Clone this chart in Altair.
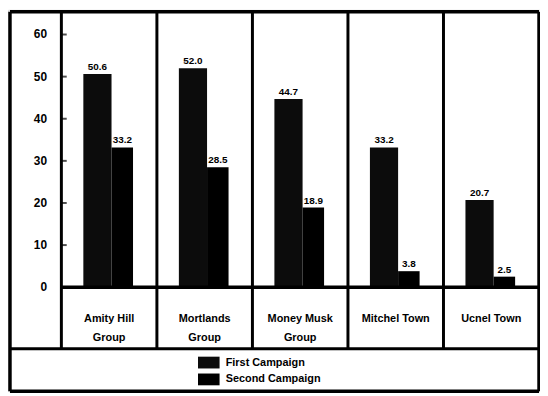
import altair as alt
import pandas as pd

# ---- data ----
groups = ["Amity Hill Group", "Mortlands Group", "Money Musk Group", "Mitchel Town", "Ucnel Town"]
group_labels = ["Amity Hill\nGroup", "Mortlands\nGroup", "Money Musk\nGroup", "Mitchel Town", "Ucnel Town"]
first_campaign = [50.6, 52.0, 44.7, 33.2, 20.7]
second_campaign = [33.2, 28.5, 18.9, 3.8, 2.5]
series = ["First Campaign", "Second Campaign"]
series_colors = ["#0c0c0c", "#000000"]
y_ticks = [0, 10, 20, 30, 40, 50, 60]

# ---- layout (panel units on x, value units on y) ----
X_LEFT, X_RIGHT = -0.538, 5.0
Y_BOTTOM, Y_TOP = -24.7, 65.4
Y_CAT_BOTTOM = -14.6
FONT = "Liberation Sans"

xs = alt.Scale(domain=[X_LEFT, X_RIGHT], range=[2, 536])
ys = alt.Scale(domain=[Y_BOTTOM, Y_TOP], range=[385, 2])

rows = []
for i, g in enumerate(groups):
    rows.append({"group": g, "slot": i, "series": series[0], "value": first_campaign[i],
                 "x0": i + 0.23, "x1": i + 0.525})
    rows.append({"group": g, "slot": i, "series": series[1], "value": second_campaign[i],
                 "x0": i + 0.525, "x1": i + 0.75})
bars_df = pd.DataFrame(rows)
bars_df["xm"] = (bars_df["x0"] + bars_df["x1"]) / 2
bars_df["label"] = bars_df["value"].map(lambda v: f"{v:.1f}")

color = alt.Color("series:N", scale=alt.Scale(domain=series, range=series_colors), legend=None)

bars = alt.Chart(bars_df).mark_rect().encode(
    x=alt.X("x0:Q", scale=xs, axis=None),
    x2="x1:Q",
    y=alt.Y("value:Q", scale=ys, axis=None),
    y2=alt.datum(0),
    color=color,
)

value_labels = alt.Chart(bars_df).mark_text(
    font=FONT, fontSize=10, fontWeight="bold", baseline="bottom", dy=-2, color="black"
).encode(
    x=alt.X("xm:Q", scale=xs, axis=None),
    y=alt.Y("value:Q", scale=ys, axis=None),
    text="label:N",
)

# frame lines
frame_df = pd.DataFrame([
    {"x": X_LEFT, "x2": X_RIGHT, "y": Y_TOP, "y2": Y_TOP, "w": 3.5},
    {"x": X_LEFT, "x2": X_RIGHT, "y": Y_BOTTOM, "y2": Y_BOTTOM, "w": 3.5},
    {"x": X_LEFT, "x2": X_LEFT, "y": Y_BOTTOM, "y2": Y_TOP, "w": 3.5},
    {"x": X_RIGHT, "x2": X_RIGHT, "y": Y_BOTTOM, "y2": Y_TOP, "w": 3.5},
    {"x": X_LEFT, "x2": X_RIGHT, "y": Y_CAT_BOTTOM, "y2": Y_CAT_BOTTOM, "w": 3},
    {"x": 0, "x2": X_RIGHT, "y": 0, "y2": 0, "w": 3.5},
] + [
    {"x": k, "x2": k, "y": Y_CAT_BOTTOM, "y2": Y_TOP, "w": 3} for k in range(0, 5)
])

frame = alt.Chart(frame_df).mark_rule(color="black").encode(
    x=alt.X("x:Q", scale=xs, axis=None),
    x2="x2:Q",
    y=alt.Y("y:Q", scale=ys, axis=None),
    y2="y2:Q",
    strokeWidth=alt.StrokeWidth("w:Q", scale=None, legend=None),
)

ticks_df = pd.DataFrame({"tick": y_ticks, "label": [str(t) for t in y_ticks]})
tick_labels = alt.Chart(ticks_df).mark_text(
    font=FONT, fontSize=12, fontWeight="bold", align="right", baseline="middle", color="black"
).encode(
    x=alt.X("pos:Q", scale=xs, axis=None),
    y=alt.Y("tick:Q", scale=ys, axis=None),
    text="label:N",
).transform_calculate(pos="-0.15")

tick_marks = alt.Chart(ticks_df).mark_tick(color="black", thickness=2, size=5, orient="horizontal").encode(
    x=alt.X("pos:Q", scale=xs, axis=None),
    y=alt.Y("tick:Q", scale=ys, axis=None),
).transform_calculate(pos="0.03")

cat_df = pd.DataFrame({"group": groups, "label": group_labels, "slot": list(range(len(groups)))})
cat_df["xc"] = cat_df["slot"] + 0.5
cat_df["yc"] = -7.5
cat_labels = alt.Chart(cat_df).mark_text(
    font=FONT, fontSize=11, fontWeight="bold", align="center", baseline="middle",
    lineBreak="\n", lineHeight=19, color="black"
).encode(
    x=alt.X("xc:Q", scale=xs, axis=None),
    y=alt.Y("yc:Q", scale=ys, axis=None),
    text="label:N",
)

leg_df = pd.DataFrame({"series": series, "row": [0, 1]})
leg_df["yc"] = -17.9 - 4.0 * leg_df["row"]
leg_df["yt"] = leg_df["yc"] + 1.4
leg_df["yb"] = leg_df["yc"] - 1.4
leg_df["sx0"] = 1.43
leg_df["sx1"] = 1.656
leg_df["tx"] = 1.72

leg_swatch = alt.Chart(leg_df).mark_rect().encode(
    x=alt.X("sx0:Q", scale=xs, axis=None), x2="sx1:Q",
    y=alt.Y("yb:Q", scale=ys, axis=None), y2="yt:Q",
    color=color,
)
leg_text = alt.Chart(leg_df).mark_text(
    font=FONT, fontSize=11, fontWeight="bold", align="left", baseline="middle", color="black"
).encode(
    x=alt.X("tx:Q", scale=xs, axis=None),
    y=alt.Y("yc:Q", scale=ys, axis=None),
    text="series:N",
)

chart = alt.layer(
    bars, value_labels, frame, tick_marks, tick_labels, cat_labels, leg_swatch, leg_text
).properties(
    width=537, height=385, autosize="none", padding=0,
).configure_view(stroke=None).configure(background="white")

chart.save("out.html", embed_options={"renderer": "svg", "actions": False})
